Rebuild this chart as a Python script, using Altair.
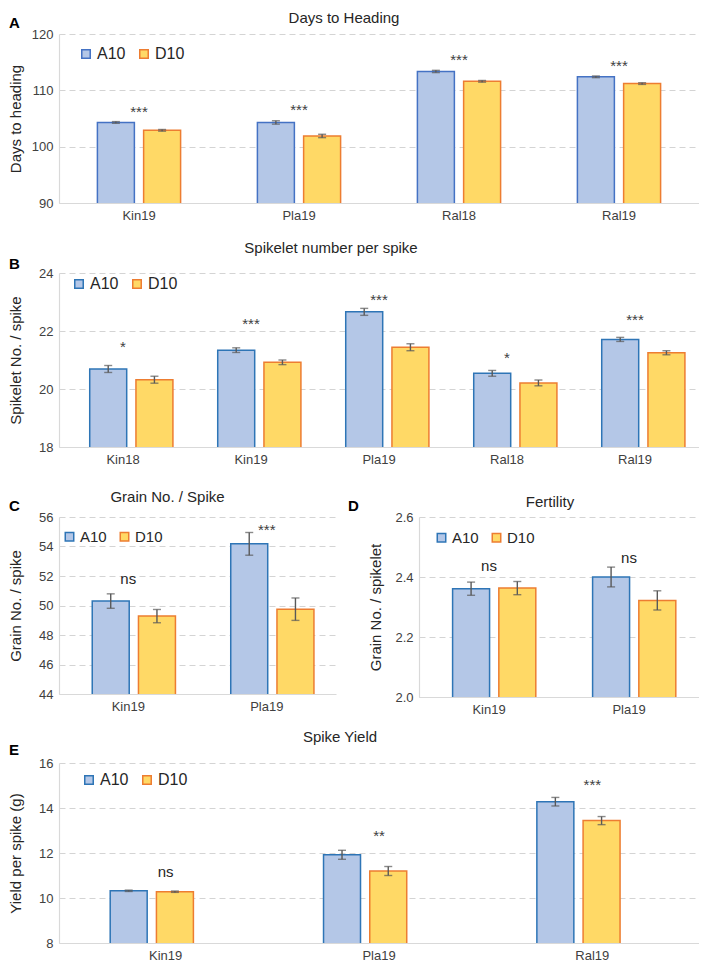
import altair as alt
import pandas as pd

FONT = "Liberation Sans"
SERIES = ["A10", "D10"]
FILL = ["#B4C7E7", "#FFD966"]
ORANGE = "#ED7D31"

# ---- Panel A: Days to Heading
a_sites = ["Kin19", "Pla19", "Ral18", "Ral19"]
a_a10 = [104.3, 104.3, 113.35, 112.4]
a_a10_err = [0.15, 0.3, 0.2, 0.15]
a_d10 = [102.9, 101.9, 111.6, 111.2]
a_d10_err = [0.15, 0.3, 0.15, 0.15]
a_sig = ["***", "***", "***", "***"]
a_sig_y = [106.8, 107.2, 116.1, 115.0]
a_ticks = [90, 100, 110, 120]

# ---- Panel B: Spikelet number per spike
b_sites = ["Kin18", "Kin19", "Pla19", "Ral18", "Ral19"]
b_a10 = [20.69, 21.34, 22.66, 20.54, 21.71]
b_a10_err = [0.12, 0.08, 0.12, 0.1, 0.07]
b_d10 = [20.32, 20.92, 21.44, 20.21, 21.25]
b_d10_err = [0.12, 0.08, 0.12, 0.1, 0.07]
b_sig = ["*", "***", "***", "*", "***"]
b_sig_y = [21.58, 22.38, 23.2, 21.2, 22.52]
b_ticks = [18, 20, 22, 24]

# ---- Panel C: Grain No. / Spike
c_sites = ["Kin19", "Pla19"]
c_a10 = [50.3, 54.18]
c_a10_err = [0.49, 0.77]
c_d10 = [49.28, 49.75]
c_d10_err = [0.45, 0.76]
c_sig = ["ns", "***"]
c_sig_y = [51.83, 55.4]
c_ticks = [44, 46, 48, 50, 52, 54, 56]

# ---- Panel D: Fertility
d_sites = ["Kin19", "Pla19"]
d_a10 = [2.361, 2.40]
d_a10_err = [0.022, 0.033]
d_d10 = [2.363, 2.322]
d_d10_err = [0.022, 0.032]
d_sig = ["ns", "ns"]
d_sig_y = [2.437, 2.463]
d_ticks = [2.0, 2.2, 2.4, 2.6]

# ---- Panel E: Spike Yield
e_sites = ["Kin19", "Pla19", "Ral19"]
e_a10 = [10.32, 11.92, 14.28]
e_a10_err = [0.03, 0.2, 0.19]
e_d10 = [10.28, 11.2, 13.44]
e_d10_err = [0.03, 0.2, 0.18]
e_sig = ["ns", "**", "***"]
e_sig_y = [11.16, 12.95, 15.2]
e_ticks = [8, 10, 12, 14, 16]


def panel(letter, title, sites, a_vals, a_err, d_vals, d_err, sig, sig_y,
          yticks, ytitle, width, height, title_dx, title_offset,
          legend_x, legend_y, legend_fs, a_stroke, yfmt, letter_x, letter_y):
    rows = []
    for i, s in enumerate(sites):
        rows.append(dict(site=s, series="A10", value=a_vals[i],
                         lo=a_vals[i] - a_err[i], hi=a_vals[i] + a_err[i]))
        rows.append(dict(site=s, series="D10", value=d_vals[i],
                         lo=d_vals[i] - d_err[i], hi=d_vals[i] + d_err[i]))
    df = pd.DataFrame(rows)
    sdf = pd.DataFrame({"site": sites, "label": sig, "sy": sig_y})

    xscale = alt.Scale(domain=sites, paddingInner=0.48, paddingOuter=0.24)
    xaxis = alt.Axis(labelAngle=0, labelPadding=6, grid=False, ticks=False,
                     domainColor="#d9d9d9", domainWidth=1.2, labelFontSize=13)
    xenc = alt.X("site:N", sort=sites, title=None, scale=xscale, axis=xaxis)
    xoff = alt.XOffset("series:N", sort=SERIES,
                       scale=alt.Scale(domain=SERIES, paddingInner=0.2, paddingOuter=0))
    yscale = alt.Scale(domain=[yticks[0], yticks[-1]], zero=False, nice=False)
    yaxis = alt.Axis(values=yticks, format=yfmt, grid=True, gridDash=[6, 4],
                     gridColor="#d4d4d4", ticks=False, labelPadding=6, labelOverlap=False,
                     minExtent=33, maxExtent=33, titlePadding=3,
                     domainColor="#d9d9d9", domainWidth=1.2)

    def Y(field):
        return alt.Y(field, title=ytitle, scale=yscale, axis=yaxis)

    leg = alt.Legend(title=None, orient="none", legendX=legend_x, legendY=legend_y,
                     direction="horizontal", symbolType="square", symbolSize=72,
                     symbolStrokeWidth=1.5, labelFontSize=legend_fs, labelFont=FONT,
                     labelColor="#262626", columnPadding=10, labelOffset=3, padding=0)

    bars = alt.Chart(df).mark_bar(clip=True, strokeWidth=1.5).encode(
        x=xenc, xOffset=xoff, y=Y("value:Q"),
        fill=alt.Fill("series:N", sort=SERIES,
                      scale=alt.Scale(domain=SERIES, range=FILL), legend=leg),
        stroke=alt.Stroke("series:N", sort=SERIES,
                          scale=alt.Scale(domain=SERIES, range=[a_stroke, ORANGE]), legend=leg),
    )
    rules = alt.Chart(df).mark_rule(color="#595959", strokeWidth=1.4).encode(
        x=xenc, xOffset=xoff, y=Y("lo:Q"), y2="hi:Q")
    cap_lo = alt.Chart(df).mark_tick(color="#595959", thickness=1.4, size=8,
                                     orient="horizontal").encode(
        x=xenc, xOffset=xoff, y=Y("lo:Q"))
    cap_hi = alt.Chart(df).mark_tick(color="#595959", thickness=1.4, size=8,
                                     orient="horizontal").encode(
        x=xenc, xOffset=xoff, y=Y("hi:Q"))
    stars = alt.Chart(sdf).transform_filter("datum.label != 'ns'").mark_text(
        font=FONT, fontSize=15, color="#404040", baseline="middle", dy=4).encode(
        x=xenc, y=Y("sy:Q"), text="label:N")
    ns = alt.Chart(sdf).transform_filter("datum.label == 'ns'").mark_text(
        font=FONT, fontSize=15, color="#262626", baseline="middle").encode(
        x=xenc, y=Y("sy:Q"), text="label:N")
    let = alt.Chart(pd.DataFrame({"t": [letter]})).mark_text(
        font=FONT, fontSize=15, fontWeight="bold", align="left", baseline="middle",
        color="#000000").encode(x=alt.value(letter_x), y=alt.value(letter_y), text="t:N")

    return alt.layer(bars, rules, cap_lo, cap_hi, stars, ns, let).properties(
        width=width, height=height,
        title=alt.TitleParams(title, dx=title_dx, offset=title_offset,
                              frame="group", anchor="middle"))


def indep(c):
    return c.resolve_scale(fill="independent", stroke="independent").resolve_legend(
        fill="independent", stroke="independent")


A = panel("A", "Days to Heading", a_sites, a_a10, a_a10_err, a_d10, a_d10_err,
          a_sig, a_sig_y, a_ticks, "Days to heading", 640, 169, -35, -10,
          19, 12, 16, "#4472C4", "d", -50, -11)
B = panel("B", "Spikelet number per spike", b_sites, b_a10, b_a10_err, b_d10, b_d10_err,
          b_sig, b_sig_y, b_ticks, "Spikelet No. / spike", 640, 174, -48, 1,
          12, 3, 16, "#2E75B6", "d", -50, -9)
C = panel("C", "Grain No. / Spike", c_sites, c_a10, c_a10_err, c_d10, c_d10_err,
          c_sig, c_sig_y, c_ticks, "Grain No. / spike", 277, 177, -30, -6,
          3, 12, 15, "#2E75B6", "d", -50, -11)
D = panel("D", "Fertility", d_sites, d_a10, d_a10_err, d_d10, d_d10_err,
          d_sig, d_sig_y, d_ticks, "Grain No. / spikelet", 280, 180, -9, -11,
          15, 13, 15, "#2E75B6", ".1f", -71, -11)
E = panel("E", "Spike Yield", e_sites, e_a10, e_a10_err, e_d10, e_d10_err,
          e_sig, e_sig_y, e_ticks, "Yield per spike (g)", 640, 180, -39, -2,
          22, 9, 16, "#2E75B6", "d", -50, -13)

top = indep(alt.vconcat(A, B, spacing=19))
row = indep(alt.hconcat(C, D, spacing=12))
bottom = indep(alt.vconcat(row, E, spacing=14))
chart = indep(alt.vconcat(top, bottom, spacing=24)).properties(
    padding={"left": 0, "top": 3, "right": 0, "bottom": 0}
).configure_view(
    stroke=None
).configure_axis(
    labelFont=FONT, titleFont=FONT, labelColor="#404040", titleColor="#262626",
    labelFontSize=13, titleFontSize=15, titleFontWeight="normal", labelOverlap=False
).configure_title(
    font=FONT, fontSize=15, fontWeight="normal", color="#262626"
)

chart.save("out.html", embed_options={"renderer": "svg", "actions": False})
